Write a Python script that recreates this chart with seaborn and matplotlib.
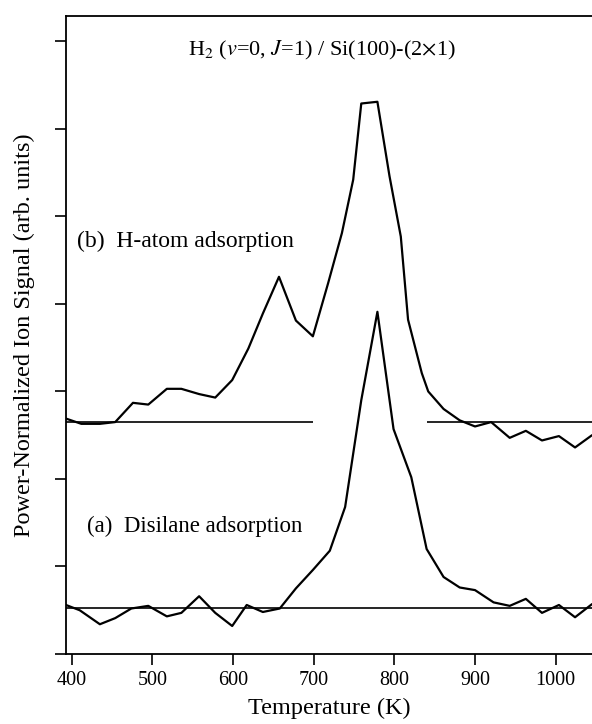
import pandas as pd
import seaborn as sns
import matplotlib.pyplot as plt

# (a) disilane adsorption
temp_a = [393, 410, 435, 454, 474, 495, 518, 536, 558, 578, 599, 617, 637, 658, 678,
          699, 720, 739, 759, 779, 799, 821, 840, 861, 881, 900, 923, 943, 963, 983,
          1004, 1024, 1045]
sig_a = [0.56, 0.50, 0.34, 0.41, 0.52, 0.55, 0.43, 0.47, 0.66, 0.47, 0.32, 0.56, 0.48,
         0.52, 0.75, 0.96, 1.18, 1.68, 2.90, 3.91, 2.57, 2.02, 1.20, 0.88, 0.76, 0.73,
         0.59, 0.55, 0.63, 0.47, 0.56, 0.42, 0.57]

# (b) H-atom adsorption
temp_b = [393, 412, 435, 454, 476, 495, 518, 536, 558, 578, 599, 619, 637, 657, 678,
          699, 718, 735, 749, 759, 779, 794, 808, 817, 834, 842, 861, 881, 900, 920,
          943, 963, 983, 1004, 1024, 1045]
sig_b = [2.69, 2.63, 2.63, 2.65, 2.87, 2.85, 3.03, 3.03, 2.97, 2.93, 3.13, 3.49, 3.89,
         4.31, 3.81, 3.63, 4.24, 4.81, 5.42, 6.29, 6.31, 5.46, 4.77, 3.82, 3.21, 3.00,
         2.80, 2.67, 2.60, 2.65, 2.47, 2.55, 2.44, 2.49, 2.36, 2.50]

base_a = 0.53
base_b = 2.655
gap_b = (699, 840)

df_a = pd.DataFrame({"T": temp_a, "S": sig_a})
df_b = pd.DataFrame({"T": temp_b, "S": sig_b})

sns.set_theme(style="ticks", rc={"text.color": "black", "axes.labelcolor": "black",
                                 "xtick.color": "black", "ytick.color": "black",
                                 "axes.edgecolor": "black"})
plt.rcParams['font.family'] = ['Liberation Serif', 'DejaVu Serif']
plt.rcParams['mathtext.fontset'] = 'stix'

fig = plt.figure(figsize=(5.92, 7.24), dpi=100)
ax = fig.add_axes([66 / 592, 70 / 724, 526 / 592, 638 / 724])

sns.lineplot(data=df_a, x="T", y="S", color="black", lw=1.6, ax=ax)
sns.lineplot(data=df_b, x="T", y="S", color="black", lw=1.6, ax=ax)

ax.hlines(base_a, 380, 1060, color="black", lw=1.2)
ax.hlines(base_b, 380, gap_b[0], color="black", lw=1.2)
ax.hlines(base_b, gap_b[1], 1060, color="black", lw=1.2)

ax.set_xlim(393, 1045)
ax.set_ylim(0, 7.29)
ax.set_xticks([400, 500, 600, 700, 800, 900, 1000])
ax.set_yticks(range(8))
ax.set_yticklabels([])
ax.tick_params(direction="out", length=8, width=1.2, labelsize=14.5, pad=4)
for s in ["left", "bottom", "top"]:
    ax.spines[s].set_linewidth(1.3)
ax.spines["right"].set_visible(False)

ax.set_xlabel("Temperature (K)", fontsize=17.5, labelpad=6)
ax.set_ylabel("Power-Normalized Ion Signal (arb. units)", fontsize=17.5)
ax.yaxis.set_label_coords(-0.058, 0.5)

ax.text(544, 6.90, r"H$_2$ ($v$=0, $J$=1) / Si(100)-(2$\times$1)", fontsize=16,
        ha="left", va="center")
ax.text(407, 4.72, "(b)  H-atom adsorption", fontsize=17, ha="left", va="center")
ax.text(419, 1.455, "(a)  Disilane adsorption", fontsize=16.5, ha="left", va="center")

fig.savefig("out.png", dpi=100)
